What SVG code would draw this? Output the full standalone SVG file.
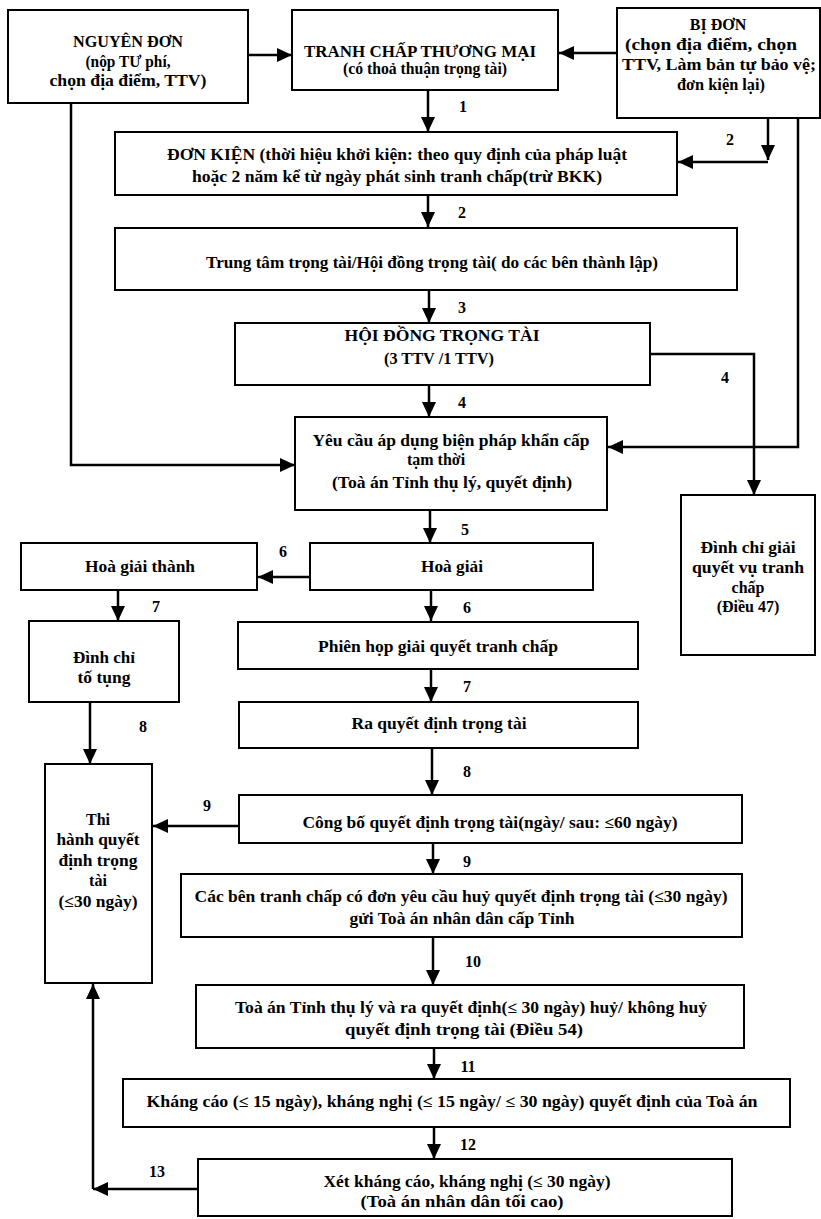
<svg xmlns="http://www.w3.org/2000/svg" width="821" height="1219" viewBox="0 0 821 1219">
<style>
.box{fill:#fff;stroke:#000;stroke-width:2}
.t{font-family:"Liberation Serif","Times New Roman",serif;font-weight:bold;font-size:16px;text-anchor:middle;fill:#000}
.lbl{font-family:"Liberation Serif","Times New Roman",serif;font-weight:bold;font-size:16px;text-anchor:middle;fill:#000}
.c{fill:none;stroke:#000;stroke-width:2.5}
</style>
<defs>
<marker id="ah" viewBox="0 0 15 14" refX="15" refY="7" markerWidth="15" markerHeight="14" markerUnits="userSpaceOnUse" orient="auto">
<path d="M0,0 L15,7 L0,14 z" fill="#000"/>
</marker>
</defs>
<rect width="821" height="1219" fill="#fff"/>

<g id="connectors">
<path class="c" d="M248,55 H292" marker-end="url(#ah)"/>
<path class="c" d="M617,53 H559" marker-end="url(#ah)"/>
<path class="c" d="M428,90 V132" marker-end="url(#ah)"/>
<path class="c" d="M768,118 V160" marker-end="url(#ah)"/>
<path class="c" d="M768,162 H678" marker-end="url(#ah)"/>
<path class="c" d="M798,118 V447 H608" marker-end="url(#ah)"/>
<path class="c" d="M71,103 V465 H295" marker-end="url(#ah)"/>
<path class="c" d="M428,195 V227" marker-end="url(#ah)"/>
<path class="c" d="M429,290 V323" marker-end="url(#ah)"/>
<path class="c" d="M429,385 V417" marker-end="url(#ah)"/>
<path class="c" d="M650,354 H754 V495" marker-end="url(#ah)"/>
<path class="c" d="M430,510 V543" marker-end="url(#ah)"/>
<path class="c" d="M310,577 H258" marker-end="url(#ah)"/>
<path class="c" d="M118,590 V621" marker-end="url(#ah)"/>
<path class="c" d="M90,702 V764" marker-end="url(#ah)"/>
<path class="c" d="M431,590 V621" marker-end="url(#ah)"/>
<path class="c" d="M431,668 V702" marker-end="url(#ah)"/>
<path class="c" d="M432,748 V795" marker-end="url(#ah)"/>
<path class="c" d="M239,826 H153" marker-end="url(#ah)"/>
<path class="c" d="M433,843 V874" marker-end="url(#ah)"/>
<path class="c" d="M433,937 V985" marker-end="url(#ah)"/>
<path class="c" d="M434,1048 V1079" marker-end="url(#ah)"/>
<path class="c" d="M434,1127 V1159" marker-end="url(#ah)"/>
<path class="c" d="M198,1189 H93" marker-end="url(#ah)"/>
<path class="c" d="M93,1189 V984" marker-end="url(#ah)"/>
<text class="lbl" x="463" y="112">1</text>
<text class="lbl" x="730" y="145">2</text>
<text class="lbl" x="462" y="218">2</text>
<text class="lbl" x="462" y="313">3</text>
<text class="lbl" x="462" y="408">4</text>
<text class="lbl" x="725" y="383">4</text>
<text class="lbl" x="465" y="535">5</text>
<text class="lbl" x="283" y="557">6</text>
<text class="lbl" x="467" y="613">6</text>
<text class="lbl" x="156" y="612">7</text>
<text class="lbl" x="467" y="692">7</text>
<text class="lbl" x="143" y="732">8</text>
<text class="lbl" x="467" y="777">8</text>
<text class="lbl" x="207" y="811">9</text>
<text class="lbl" x="467" y="867">9</text>
<text class="lbl" x="473" y="967">10</text>
<text class="lbl" x="468" y="1072">11</text>
<text class="lbl" x="468" y="1150">12</text>
<text class="lbl" x="157" y="1177">13</text>
</g>

<g id="nguyen-don">
<rect class="box" x="8" y="10" width="240" height="93"/>
<text class="t" x="128" y="47" textLength="110" lengthAdjust="spacingAndGlyphs">NGUYÊN ĐƠN</text>
<text class="t" x="128" y="67" textLength="85" lengthAdjust="spacingAndGlyphs">(nộp TƯ phí,</text>
<text class="t" x="128" y="86" textLength="157" lengthAdjust="spacingAndGlyphs">chọn địa điểm, TTV)</text>
</g>

<g id="tranh-chap">
<rect class="box" x="292" y="10" width="266" height="80"/>
<text class="t" x="420" y="57" textLength="232" lengthAdjust="spacingAndGlyphs">TRANH CHẤP THƯƠNG MẠI</text>
<text class="t" x="425" y="74" textLength="164" lengthAdjust="spacingAndGlyphs">(có thoả thuận trọng tài)</text>
</g>

<g id="bi-don">
<rect class="box" x="617" y="8" width="203" height="110"/>
<text class="t" x="718" y="30">BỊ ĐƠN</text>
<text class="t" x="711" y="50" textLength="172" lengthAdjust="spacingAndGlyphs">(chọn địa điểm, chọn</text>
<text class="t" x="719" y="70" textLength="194" lengthAdjust="spacingAndGlyphs">TTV, Làm bản tự bảo vệ;</text>
<text class="t" x="721" y="90" textLength="88" lengthAdjust="spacingAndGlyphs">đơn kiện lại)</text>
</g>

<g id="don-kien">
<rect class="box" x="115" y="132" width="562" height="63"/>
<text class="t" x="397" y="160" textLength="460" lengthAdjust="spacingAndGlyphs">ĐƠN KIỆN (thời hiệu khởi kiện: theo quy định của pháp luật</text>
<text class="t" x="397" y="182" textLength="410" lengthAdjust="spacingAndGlyphs">hoặc 2 năm kể từ ngày phát sinh tranh chấp(trừ BKK)</text>
</g>

<g id="trung-tam">
<rect class="box" x="115" y="228" width="622" height="62"/>
<text class="t" x="432" y="268" textLength="452" lengthAdjust="spacingAndGlyphs">Trung tâm trọng tài/Hội đồng trọng tài( do các bên thành lập)</text>
</g>

<g id="hoi-dong">
<rect class="box" x="235" y="323" width="415" height="62"/>
<text class="t" x="442" y="341" textLength="195" lengthAdjust="spacingAndGlyphs">HỘI ĐỒNG TRỌNG TÀI</text>
<text class="t" x="439" y="364" font-size="12" textLength="110" lengthAdjust="spacingAndGlyphs">(3 TTV /1 TTV)</text>
</g>

<g id="yeu-cau">
<rect class="box" x="295" y="417" width="312" height="93"/>
<text class="t" x="451" y="446" textLength="277" lengthAdjust="spacingAndGlyphs">Yêu cầu áp dụng biện pháp khẩn cấp</text>
<text class="t" x="436" y="465" font-size="15">tạm thời</text>
<text class="t" x="452" y="488" textLength="240" lengthAdjust="spacingAndGlyphs">(Toà án Tỉnh thụ lý, quyết định)</text>
</g>

<g id="dinh-chi-giai-quyet">
<rect class="box" x="681" y="495" width="134" height="160"/>
<text class="t" x="748" y="553" textLength="95" lengthAdjust="spacingAndGlyphs">Đình chỉ giải</text>
<text class="t" x="748" y="573" textLength="112" lengthAdjust="spacingAndGlyphs">quyết vụ tranh</text>
<text class="t" x="748" y="593">chấp</text>
<text class="t" x="748" y="612">(Điều 47)</text>
</g>

<g id="hoa-giai">
<rect class="box" x="310" y="543" width="283" height="47"/>
<text class="t" x="452" y="572" textLength="62" lengthAdjust="spacingAndGlyphs">Hoà giải</text>
</g>

<g id="hoa-giai-thanh">
<rect class="box" x="21" y="543" width="236" height="47"/>
<text class="t" x="140" y="572" textLength="110" lengthAdjust="spacingAndGlyphs">Hoà giải thành</text>
</g>

<g id="dinh-chi-to-tung">
<rect class="box" x="29" y="621" width="150" height="81"/>
<text class="t" x="104" y="663" textLength="62" lengthAdjust="spacingAndGlyphs">Đình chỉ</text>
<text class="t" x="104" y="683" textLength="53" lengthAdjust="spacingAndGlyphs">tố tụng</text>
</g>

<g id="phien-hop">
<rect class="box" x="238" y="622" width="400" height="47"/>
<text class="t" x="438" y="652" textLength="240" lengthAdjust="spacingAndGlyphs">Phiên họp giải quyết tranh chấp</text>
</g>

<g id="ra-quyet-dinh">
<rect class="box" x="239" y="702" width="399" height="46"/>
<text class="t" x="439" y="729" textLength="175" lengthAdjust="spacingAndGlyphs">Ra quyết định trọng tài</text>
</g>

<g id="thi-hanh">
<rect class="box" x="45" y="764" width="107" height="219"/>
<text class="t" x="98" y="825">Thi</text>
<text class="t" x="98" y="845" textLength="83" lengthAdjust="spacingAndGlyphs">hành quyết</text>
<text class="t" x="98" y="866" textLength="79" lengthAdjust="spacingAndGlyphs">định trọng</text>
<text class="t" x="98" y="886">tài</text>
<text class="t" x="98" y="907" textLength="79" lengthAdjust="spacingAndGlyphs">(≤30 ngày)</text>
</g>

<g id="cong-bo">
<rect class="box" x="239" y="795" width="503" height="48"/>
<text class="t" x="490" y="828" textLength="375" lengthAdjust="spacingAndGlyphs">Công bố quyết định trọng tài(ngày/ sau: ≤60 ngày)</text>
</g>

<g id="cac-ben">
<rect class="box" x="181" y="874" width="561" height="63"/>
<text class="t" x="461" y="902" textLength="533" lengthAdjust="spacingAndGlyphs">Các bên tranh chấp có đơn yêu cầu huỷ quyết định trọng tài (≤30 ngày)</text>
<text class="t" x="462" y="924" textLength="225" lengthAdjust="spacingAndGlyphs">gửi Toà án nhân dân cấp Tỉnh</text>
</g>

<g id="toa-an-tinh">
<rect class="box" x="196" y="985" width="548" height="63"/>
<text class="t" x="471" y="1013" textLength="472" lengthAdjust="spacingAndGlyphs">Toà án Tỉnh thụ lý và ra quyết định(≤ 30 ngày) huỷ/ không huỷ</text>
<text class="t" x="464" y="1035" textLength="238" lengthAdjust="spacingAndGlyphs">quyết định trọng tài (Điều 54)</text>
</g>

<g id="khang-cao">
<rect class="box" x="123" y="1079" width="667" height="48"/>
<text class="t" x="452" y="1107" textLength="611" lengthAdjust="spacingAndGlyphs">Kháng cáo (≤ 15 ngày), kháng nghị (≤ 15 ngày/ ≤ 30 ngày) quyết định của Toà án</text>
</g>

<g id="xet-khang-cao">
<rect class="box" x="198" y="1159" width="534" height="57"/>
<text class="t" x="467" y="1187" textLength="287" lengthAdjust="spacingAndGlyphs">Xét kháng cáo, kháng nghị (≤ 30 ngày)</text>
<text class="t" x="462" y="1207" textLength="203" lengthAdjust="spacingAndGlyphs">(Toà án nhân dân tối cao)</text>
</g>
</svg>
